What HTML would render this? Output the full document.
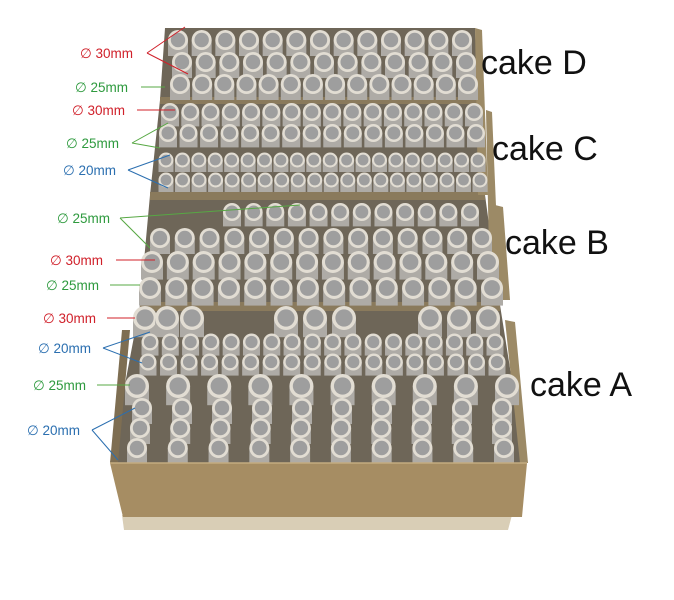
<!DOCTYPE html>
<html><head><meta charset="utf-8"><style>
body{margin:0;background:#fff;width:674px;height:600px;overflow:hidden}
svg{display:block}
.l{font-family:"Liberation Sans",sans-serif;font-size:13.5px}
.c{font-family:"Liberation Sans",sans-serif;font-size:34px;fill:#111}
</style></head><body>
<svg id="s" width="674" height="600" viewBox="0 0 674 600" xmlns="http://www.w3.org/2000/svg">
<polygon points="122,515 512,515 508,530 124,530" fill="#d9ceb6"/>
<polygon points="165,28 475,28 478,100 485,195 500,305 525,463 110,463 140,305 150,195 160,100" fill="#6e6658"/>
<polygon points="160,97 478,97 478,104 160,104" fill="#8a7a5c"/>
<polygon points="150,192 485,192 485,200 150,200" fill="#8a7a5c"/>
<polygon points="140,302 500,302 500,311 140,311" fill="#8a7a5c"/>
<polygon points="475,28 482,30 488,195 478,195" fill="#9c8a66"/>
<polygon points="486,110 492,112 500,300 490,300" fill="#9c8a66"/>
<polygon points="495,205 503,207 510,300 500,300" fill="#9c8a66"/>
<polygon points="505,320 515,322 528,463 520,463" fill="#9c8a66"/>
<polygon points="110,463 122,330 130,330 118,463" fill="#7e6e52"/>
<g id="t"></g>
<polygon points="110,463 527,463 522,517 123,517" fill="#a68d63"/>
<line x1="110" y1="463" x2="527" y2="463" stroke="#c4ab80" stroke-width="1.5"/>
<text class="c" x="481" y="74">cake D</text>
<text class="c" x="492" y="160">cake C</text>
<text class="c" x="505" y="254">cake B</text>
<text class="c" x="530" y="396">cake A</text>
<g class="l">
<text x="80" y="58" fill="#d0202a">∅ 30mm</text>
<polyline points="147,53 185,27" fill="none" stroke="#d0202a"/><polyline points="147,53 188,74" fill="none" stroke="#d0202a"/>
<text x="75" y="92" fill="#2e9a3e">∅ 25mm</text>
<line x1="141" y1="87" x2="165" y2="87" stroke="#57a844"/>
<text x="72" y="115" fill="#d0202a">∅ 30mm</text>
<line x1="137" y1="110" x2="175" y2="110" stroke="#d0202a"/>
<text x="66" y="148" fill="#2e9a3e">∅ 25mm</text>
<polyline points="132,143 168,123" fill="none" stroke="#57a844"/><polyline points="132,143 160,148" fill="none" stroke="#57a844"/>
<text x="63" y="175" fill="#2b6fb0">∅ 20mm</text>
<polyline points="128,170 170,155" fill="none" stroke="#2b6fb0"/><polyline points="128,170 168,188" fill="none" stroke="#2b6fb0"/>
<text x="57" y="223" fill="#2e9a3e">∅ 25mm</text>
<polyline points="120,218 300,205" fill="none" stroke="#57a844"/><polyline points="120,218 150,248" fill="none" stroke="#57a844"/>
<text x="50" y="265" fill="#d0202a">∅ 30mm</text>
<line x1="116" y1="260" x2="155" y2="260" stroke="#d0202a"/>
<text x="46" y="290" fill="#2e9a3e">∅ 25mm</text>
<line x1="110" y1="285" x2="140" y2="285" stroke="#57a844"/>
<text x="43" y="323" fill="#d0202a">∅ 30mm</text>
<line x1="107" y1="318" x2="135" y2="318" stroke="#d0202a"/>
<text x="38" y="353" fill="#2b6fb0">∅ 20mm</text>
<polyline points="103,348 150,332" fill="none" stroke="#2b6fb0"/><polyline points="103,348 142,363" fill="none" stroke="#2b6fb0"/>
<text x="33" y="390" fill="#2e9a3e">∅ 25mm</text>
<line x1="97" y1="385" x2="130" y2="385" stroke="#57a844"/>
<text x="27" y="435" fill="#2b6fb0">∅ 20mm</text>
<polyline points="92,430 135,408" fill="none" stroke="#2b6fb0"/><polyline points="92,430 118,460" fill="none" stroke="#2b6fb0"/>
</g>
</svg>
<script>
var g=document.getElementById('t'),h='';
function tube(x,y,r){h+='<rect x="'+(x-r)+'" y="'+y+'" width="'+(2*r)+'" height="'+(r*1.6)+'" fill="#aeaba6"/>'+
'<circle cx="'+x+'" cy="'+y+'" r="'+r+'" fill="#e2ddd3"/><circle cx="'+x+'" cy="'+y+'" r="'+(r*0.72)+'" fill="#9e9e9e"/>';}
function row(y,r,x0,x1,n){for(var i=0;i<n;i++)tube(x0+(x1-x0)*i/(n-1),y,r);}
row(40,10,178,462,13);row(62,10,182,466,13);row(84,10,180,468,14);
row(112,9,170,474,16);row(133,9,168,476,16);row(160,7.5,166,478,20);row(180,7.5,166,480,20);
row(212,9,232,470,12);row(238,10,160,482,14);row(262,11,152,488,14);row(288,11,150,492,14);
[145,167,192,286,315,344,430,459,488].forEach(function(x){tube(x,318,12)});
row(342,8.5,150,495,18);row(362,8.5,148,497,18);
row(386,12,137,507,10);row(408,10,142,502,10);row(428,10,140,502,10);row(448,10,137,504,10);
g.innerHTML=h;
</script>
</body></html>
